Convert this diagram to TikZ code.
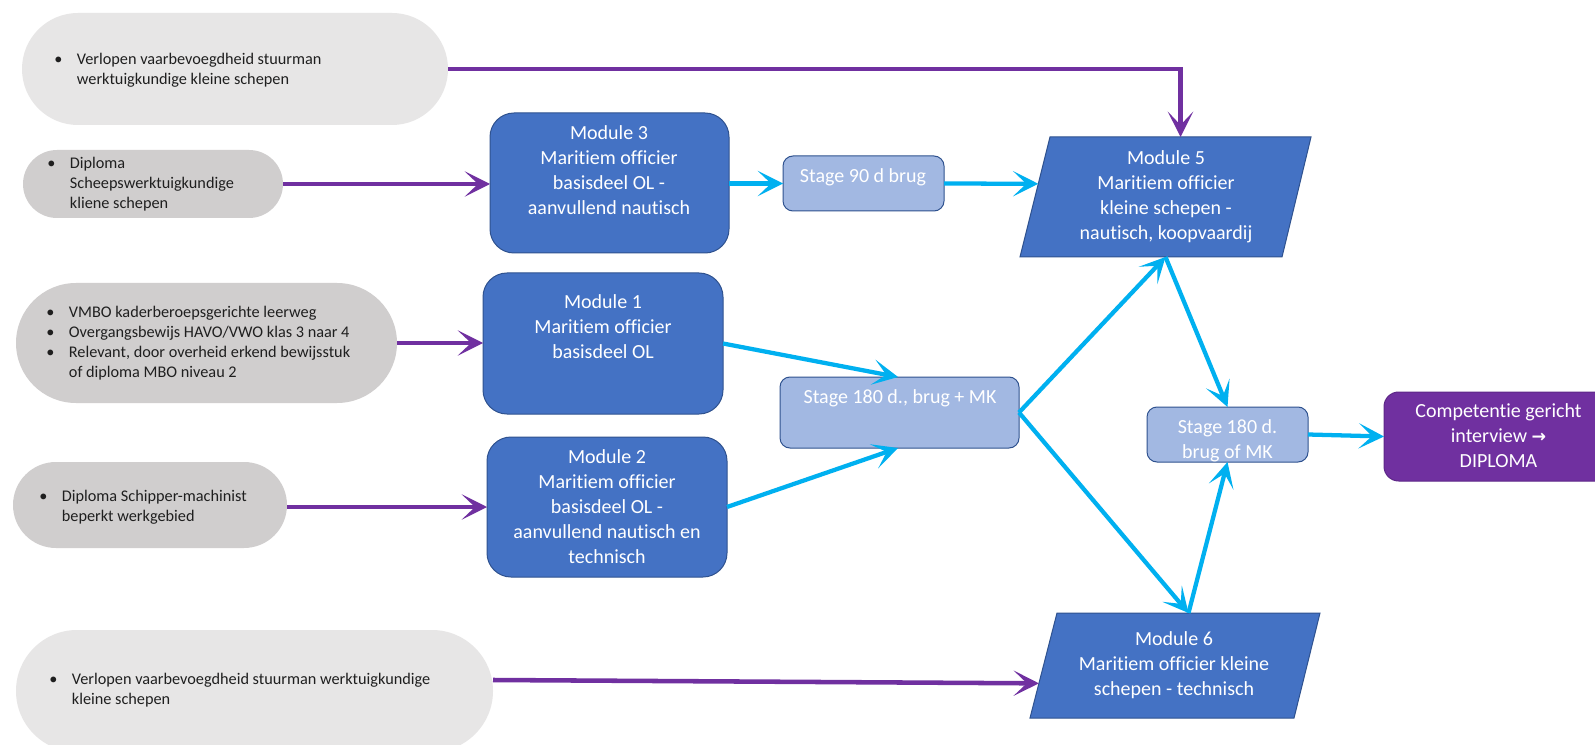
\documentclass[tikz,border=0pt]{standalone}
\usepackage{fontspec}
\setmainfont{Carlito}[Ligatures={NoCommon}]
\newfontfamily\symfont{DejaVu Sans}
\usetikzlibrary{arrows.meta,calc}
\definecolor{grayA}{HTML}{E7E6E6}
\definecolor{grayB}{HTML}{D0CECE}
\definecolor{modblue}{HTML}{4472C4}
\definecolor{modline}{HTML}{2F528F}
\definecolor{stageblue}{HTML}{A2B8E2}
\definecolor{purp}{HTML}{7030A0}
\definecolor{purpline}{HTML}{5E2888}
\definecolor{cyanc}{HTML}{00B0F0}
\begin{document}
\begin{tikzpicture}[x=0.75pt,y=-0.75pt,
  base/.style={inner sep=0pt, outer sep=0pt},
  lightgray/.style={base, fill=grayA},
  darkgray/.style={base, fill=grayB},
  modbox/.style={base, fill=modblue, draw=modline, line width=0.75pt, rounded corners=18pt},
  stagebox/.style={base, fill=stageblue, draw=modline, line width=0.75pt, rounded corners=7.5pt},
  finalbox/.style={base, fill=purp, draw=purpline, line width=0.75pt, rounded corners=11pt},
  paraframe/.style={base},
  parafill/.style={fill=modblue, draw=modline, line width=0.75pt},
  wtext/.style={inner sep=0pt, text=white, align=center, font=\fontsize{15}{18.75}\selectfont},
  btext/.style={inner sep=0pt, anchor=west, align=left, text=black!88, font=\fontsize{12.2}{15}\selectfont},
  parr/.style={draw=purp, line width=3.4pt, -{Stealth[length=19pt,width=19pt,inset=10pt]}},
  carr/.style={draw=cyanc, line width=3.2pt, -{Stealth[length=19pt,width=19pt,inset=10pt]}},
]
\useasboundingbox (0,0) rectangle (1595,745);
\clip (0,0) rectangle (1595,745);
\fill[white] (0,0) rectangle (1595,745);

% entry shapes
\node[lightgray, minimum width=319.5pt, minimum height=84pt, rounded corners=42pt] (g1) at (235,69) {};
\node[darkgray, minimum width=195pt, minimum height=51pt, rounded corners=25.5pt] (g2) at (153,184) {};
\node[darkgray, minimum width=285.75pt, minimum height=90pt, rounded corners=45pt] (g3) at (206.5,343) {};
\node[darkgray, minimum width=205.5pt, minimum height=64.5pt, rounded corners=32.25pt] (g4) at (150,505) {};
\node[lightgray, minimum width=357.75pt, minimum height=91.5pt, rounded corners=45.75pt] (g5) at (254.5,691) {};

\newcommand{\bul}{\makebox[17pt][l]{\textbullet}}
\newcommand{\ind}{\hspace*{17pt}}
\node[btext] (g1t) at (54,70) {\bul Verlopen vaarbevoegdheid stuurman\\\ind werktuigkundige kleine schepen};
\node[btext] (g2t) at (47,184) {\bul Diploma\\\ind Scheepswerktuigkundige\\\ind kliene schepen};
\node[btext] (g3t) at (46,343.5) {\bul VMBO kaderberoepsgerichte leerweg\\\bul Overgangsbewijs HAVO/VWO klas 3 naar 4\\\bul Relevant, door overheid erkend bewijsstuk\\\ind of diploma MBO niveau 2};
\node[btext] (g4t) at (39,507) {\bul Diploma Schipper-machinist\\\ind beperkt werkgebied};
\node[btext] (g5t) at (49,690) {\bul Verlopen vaarbevoegdheid stuurman werktuigkundige\\\ind kleine schepen};

% modules
\node[modbox, minimum width=179.25pt, minimum height=105pt] (m3) at (609.5,183) {};
\node[modbox, minimum width=180pt, minimum height=105.75pt] (m1) at (603,343.5) {};
\node[modbox, minimum width=180pt, minimum height=105pt] (m2) at (607,507) {};
\node[wtext] (m3t) at (609,170) {Module 3\\Maritiem officier\\basisdeel OL -\\aanvullend nautisch};
\node[wtext] (m1t) at (603,326.5) {Module 1\\Maritiem officier\\basisdeel OL};
\node[wtext] (m2t) at (607,506.5) {Module 2\\Maritiem officier\\basisdeel OL -\\aanvullend nautisch en\\technisch};

% stages
\node[stagebox, minimum width=120.75pt, minimum height=41.25pt] (s90) at (863.5,183.5) {};
\node[stagebox, minimum width=179.25pt, minimum height=53.25pt] (s180) at (899.5,412.5) {};
\node[stagebox, minimum width=120.75pt, minimum height=41.25pt] (s180d) at (1227.5,434.5) {};
\node[wtext] (s90t) at (863,177) {Stage 90 d brug};
\node[wtext] (s180t) at (900,398) {Stage 180 d., brug + MK};
\node[wtext] (s180dt) at (1227.5,440.5) {Stage 180 d.\\brug of MK};

% final
\node[finalbox, minimum width=171.75pt, minimum height=66.75pt] (comp) at (1498.5,436.5) {};
\node[wtext] (compt) at (1498.5,436) {Competentie gericht\\interview {\symfont\bfseries\fontsize{13}{15}\selectfont →}\\DIPLOMA};

% parallelograms
\node[paraframe, minimum width=218.25pt, minimum height=90pt] (m5) at (1165.5,197) {};
\coordinate (m5tl) at ($(m5.north west)+(30,0)$);
\coordinate (m5tr) at (m5.north east);
\coordinate (m5br) at ($(m5.south east)+(-29,0)$);
\coordinate (m5bl) at (m5.south west);
\filldraw[parafill] (m5tl) -- (m5tr) -- (m5br) -- (m5bl) -- cycle;
\node[wtext] (m5t) at (1166,197) {Module 5\\Maritiem officier\\kleine schepen -\\nautisch, koopvaardij};

\node[paraframe, minimum width=217.5pt, minimum height=78.75pt] (m6) at (1175,665.5) {};
\coordinate (m6tl) at ($(m6.north west)+(27,0)$);
\coordinate (m6tr) at (m6.north east);
\coordinate (m6br) at ($(m6.south east)+(-26,0)$);
\coordinate (m6bl) at (m6.south west);
\filldraw[parafill] (m6tl) -- (m6tr) -- (m6br) -- (m6bl) -- cycle;
\node[wtext] (m6t) at (1174,665) {Module 6\\Maritiem officier kleine\\schepen - technisch};

% purple connectors
\draw[parr] (g1.east) -| ($(m5tl)!0.5!(m5tr)$);
\draw[parr] (g2.east) -- (g2.east -| m3.west);
\draw[parr] (g3.east) -- (g3.east -| m1.west);
\draw[parr] (g4.east |- m2.west) -- (m2.west);
\draw[parr] ($(g5.east)+(0,-11)$) -- ($(m6bl)!0.33!(m6tl)$);

% cyan connectors
\draw[carr] (m3.east |- s90.west) -- (s90.west);
\draw[carr] (s90.east) -- ($(m5bl)!0.61!(m5tl)$);
\draw[carr] (m1.east) -- ($(s180.north west)!0.494!(s180.north east)$);
\draw[carr] (m2.east) -- ($(s180.south west)!0.494!(s180.south east)$);
\draw[carr] (s180.east) -- (m5.south);
\draw[carr] (s180.east) -- ($(m6tl)!0.5!(m6tr)$);
\draw[carr] (m5.south) -- (s180d.north);
\draw[carr] ($(m6tl)!0.5!(m6tr)$) -- (s180d.south);
\draw[carr] (s180d.east) -- (comp.west);
\end{tikzpicture}
\end{document}
